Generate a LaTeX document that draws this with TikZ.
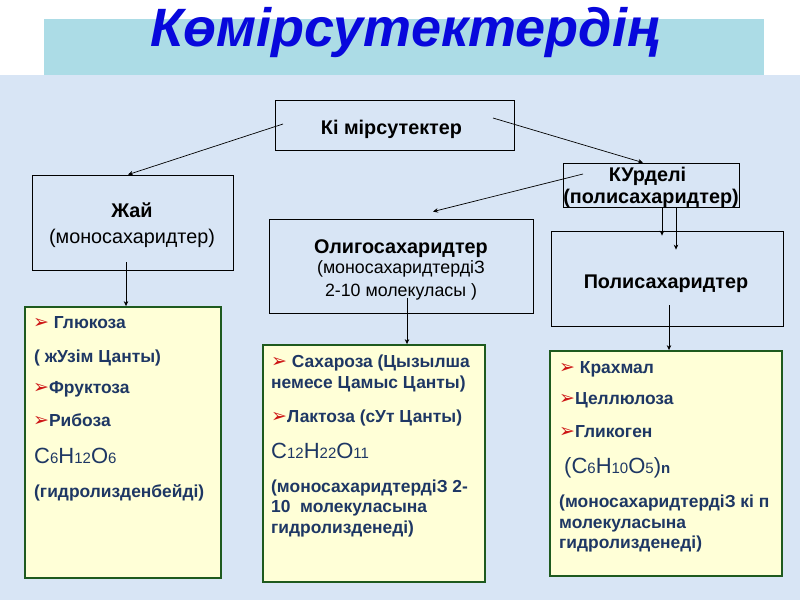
\documentclass[tikz,border=0pt]{standalone}
\usepackage{fontspec}
\setmainfont{Liberation Sans}
\newfontfamily\bulletfont{DejaVu Sans}
\usetikzlibrary{arrows.meta}
\definecolor{bandcyan}{RGB}{172,220,230}
\definecolor{panelblue}{RGB}{216,229,245}
\definecolor{titleblue}{RGB}{8,8,220}
\definecolor{listfill}{RGB}{255,255,215}
\definecolor{listedge}{RGB}{30,90,30}
\definecolor{navy}{RGB}{30,55,100}
\definecolor{bulletred}{RGB}{205,20,20}
\newcommand\bul{{\bulletfont\fontsize{19}{19}\selectfont\textcolor{bulletred}{➢}}}
\newcommand\sm[1]{{\fontsize{15}{15}\selectfont #1}}
\begin{document}
\begin{tikzpicture}[x=1pt,y=-1pt,
  box/.style={draw=black,line width=0.8pt,rectangle,inner sep=0pt},
  listbox/.style={draw=listedge,fill=listfill,line width=1.8pt,rectangle,inner sep=0pt},
  conn/.style={draw=black,line width=0.7pt,-{Stealth[length=5pt,width=4.5pt]}},
  lbl/.style={inner sep=0pt,anchor=base,font=\fontsize{19.8}{22}\selectfont\bfseries},
  lblr/.style={inner sep=0pt,anchor=base,font=\fontsize{19.8}{22}\selectfont},
  lbls/.style={inner sep=0pt,anchor=base,font=\fontsize{17.8}{20}\selectfont},
  item/.style={inner sep=0pt,anchor=base west,text=navy,font=\fontsize{17.4}{19}\selectfont\bfseries},
  formula/.style={inner sep=0pt,anchor=base west,text=navy,font=\fontsize{22}{24}\selectfont}]
\useasboundingbox (0,0) rectangle (800,600);
% backgrounds
\fill[white] (0,0) rectangle (800,600);
\fill[bandcyan] (44,19) rectangle (764,75);
\fill[panelblue] (0,75) rectangle (800,600);
% title
\node[inner sep=0pt,anchor=base,font=\fontsize{54}{54}\selectfont\bfseries\itshape,text=titleblue] (title) at (405,46) {Көмірсутектердің};
% top boxes
\node[box,minimum width=239pt,minimum height=50pt] (ki) at (394.5,125) {};
\node[box,minimum width=201pt,minimum height=95pt] (jai) at (132.5,222.5) {};
\node[box,minimum width=264pt,minimum height=94pt] (oligo) at (401,266) {};
\node[box,minimum width=176pt,minimum height=44pt] (kur) at (651,185) {};
\node[box,minimum width=232pt,minimum height=95pt] (poly) at (667,278.5) {};
% texts of top boxes
\node[lbl] (kiT) at (391.5,134) {Кі мірсутектер};
\node[lbl] (jaiT1) at (132,217) {Жай};
\node[lblr] (jaiT2) at (132,243) {(моносахаридтер)};
\node[lbl] (oligoT1) at (401,253) {Олигосахаридтер};
\node[lbls] (oligoT2) at (401,273) {(моносахаридтердіЗ};
\node[lbls] (oligoT3) at (401,296) {2-10 молекуласы )};
\node[lbl] (kurT1) at (647.5,181) {КУрделі};
\node[lbl] (kurT2) at (651,203) {(полисахаридтер)};
\node[lbl] (polyT) at (666,288) {Полисахаридтер};
% list boxes
\node[listbox,minimum width=196pt,minimum height=271pt] (l1) at (123,442.5) {};
\node[listbox,minimum width=222pt,minimum height=237pt] (l2) at (374,463.5) {};
\node[listbox,minimum width=232pt,minimum height=225pt] (l3) at (666,463.5) {};
% list 1
\node[item] (a1) at (33,328) {\bul\ Глюкоза};
\node[item] (a2) at (34,362) {( жУзім Цанты)};
\node[item] (a3) at (33,393) {\bul Фруктоза};
\node[item] (a4) at (33,426) {\bul Рибоза};
\node[formula] (a5) at (34,463) {C\sm{6}H\sm{12}O\sm{6}};
\node[item] (a6) at (34,497) {(гидролизденбейді)};
% list 2
\node[item] (b1) at (271,367) {\bul\ Сахароза (Цызылша};
\node[item] (b2) at (271,388) {немесе Цамыс Цанты)};
\node[item] (b3) at (271,422) {\bul Лактоза (сУт Цанты)};
\node[formula] (b4) at (271,458) {C\sm{12}H\sm{22}O\sm{11}};
\node[item] (b5) at (271,492) {(моносахаридтердіЗ 2-};
\node[item] (b6) at (271,512) {10\ \ молекуласына};
\node[item] (b7) at (271,533) {гидролизденеді)};
% list 3
\node[item] (c1) at (559,373) {\bul\ Крахмал};
\node[item] (c2) at (559,404) {\bul Целлюлоза};
\node[item] (c3) at (559,437) {\bul Гликоген};
\node[formula] (c4) at (564,473) {(C\sm{6}H\sm{10}O\sm{5})\textbf{\sm{n}}};
\node[item] (c5) at (559,507) {(моносахаридтердіЗ кі п};
\node[item] (c6) at (559,528) {молекуласына};
\node[item] (c7) at (559,548) {гидролизденеді)};
% connector start points (inside boxes)
\coordinate (s1) at (283,124);
\coordinate (s2) at (493,118);
\coordinate (s3) at (583,174);
\coordinate (s4) at (126,262);
\coordinate (s5) at (407,298);
\coordinate (s6) at (669,305);
% connectors
\draw[conn] (s1) -- ([xshift=-4.5pt]jai.north);
\draw[conn] (s2) -- ([xshift=-8pt]kur.north);
\draw[conn] (s3) -- ([shift={(32,-7)}]oligo.north);
\draw[conn] ([xshift=11pt]kur.south) -- ([shift={(-5,5)}]poly.north);
\draw[conn] ([xshift=25pt]kur.south) -- ([shift={(9,19)}]poly.north);
\draw[conn] (s4) -- (s4 |- l1.north);
\draw[conn] (s5) -- (s5 |- l2.north);
\draw[conn] (s6) -- (s6 |- l3.north);
\end{tikzpicture}
\end{document}
